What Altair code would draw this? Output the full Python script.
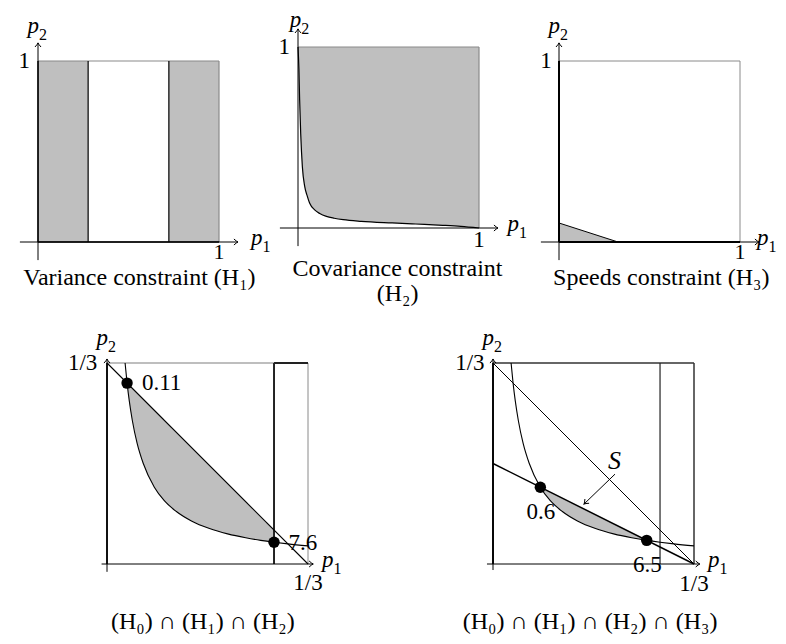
import math
import numpy as np
import pandas as pd
import altair as alt

FONT = "Liberation Serif"
FILL = "#bfbfbf"
BOX_GRAY = "#8a8a8a"
LIGHT_GRAY = "#a8a8a8"
CHEVRON = "M -1.5 -1.1 Q -0.5 -0.2 0 0 Q -0.5 0.2 -1.5 1.1"

# ---------------- values ----------------
# top row: unit square
var_lo = [0.0, 0.723]                      # H1 shaded bands (left edges)
var_hi = [0.277, 1.0]                      # H1 shaded bands (right edges)
cov_p1 = [0.0, 0.005, 0.009, 0.015, 0.024, 0.037, 0.05, 0.064, 0.092, 0.12,
          0.157, 0.2, 0.25, 0.35, 0.52, 0.65, 0.8, 0.9, 1.0]
cov_p2 = [1.0, 0.88, 0.71, 0.52, 0.34, 0.23, 0.18, 0.138, 0.10, 0.08,
          0.064, 0.054, 0.046, 0.037, 0.028, 0.022, 0.015, 0.009, 0.0]
spd_p1 = [0.0, 0.326]                      # H3 triangle hypotenuse
spd_p2 = [0.105, 0.0]
unit_tick = "1"

# bottom row: zoom on [0, 1/3]^2
THIRD = 1.0 / 3.0
zc_p1 = [0.030, 0.0333, 0.037, 0.042, 0.050, 0.060, 0.0785, 0.095, 0.115, 0.140,
         0.170, 0.200, 0.230, 0.2549, 0.277, 0.300, 0.3333]
zc_p2 = [0.3333, 0.300, 0.270, 0.238, 0.200, 0.167, 0.1274, 0.105, 0.087, 0.0714,
         0.0588, 0.050, 0.0435, 0.0392, 0.0361, 0.0333, 0.030]
h0_p1 = [0.0, THIRD]
h0_p2 = [THIRD, 0.0]
h3_p1 = [0.0, THIRD]
h3_p2 = [1.0 / 6.0, 0.0]
h1_cut = 0.277
dot4_p1 = [0.0333, 0.277]
dot4_p2 = [0.300, 0.0361]
dot4_lab = ["0.11", "7.6"]
dot5_p1 = [0.0785, 0.2549]
dot5_p2 = [0.1274, 0.0392]
dot5_lab = ["0.6", "6.5"]
third_tick = "1/3"
set_label = "S"

title1 = "Variance constraint (H\u2081)"
title2 = ["Covariance constraint", "(H\u2082)"]
title3 = "Speeds constraint (H\u2083)"
title4 = "(H\u2080) \u2229 (H\u2081) \u2229 (H\u2082)"
title5 = "(H\u2080) \u2229 (H\u2081) \u2229 (H\u2082) \u2229 (H\u2083)"


class Panel:
    def __init__(self, w, h, ox, oy, s):
        self.w, self.h = w, h
        self.xs = alt.Scale(domain=[-ox / s, (w - ox) / s], nice=False, zero=False)
        self.ys = alt.Scale(domain=[-(h - oy) / s, oy / s], nice=False, zero=False)
        self.layers = []

    def _enc(self, **kw):
        enc = dict(x=alt.X("x:Q", scale=self.xs, axis=None),
                   y=alt.Y("y:Q", scale=self.ys, axis=None))
        enc.update(kw)
        return enc

    def segs(self, rows, color="black", width=1.0):
        df = pd.DataFrame(rows, columns=["x", "y", "x2", "y2"])
        self.layers.append(alt.Chart(df).mark_rule(color=color, strokeWidth=width)
                           .encode(**self._enc(x2="x2:Q", y2="y2:Q")))

    def line(self, px, py, color="black", width=1.0, interp="linear"):
        df = pd.DataFrame({"x": px, "y": py, "o": list(range(len(px)))})
        self.layers.append(alt.Chart(df).mark_line(color=color, strokeWidth=width,
                                                   interpolate=interp)
                           .encode(**self._enc(order="o:Q")))

    def area(self, px, lo, hi, interp="linear"):
        df = pd.DataFrame({"x": px, "y": lo, "y2": hi})
        self.layers.append(alt.Chart(df).mark_area(color=FILL, opacity=1, interpolate=interp)
                           .encode(**self._enc(y2="y2:Q")))

    def rects(self, x1, x2, y1, y2):
        df = pd.DataFrame({"x": x1, "x2": x2, "y": y1, "y2": y2})
        self.layers.append(alt.Chart(df).mark_rect(color=FILL, opacity=1)
                           .encode(**self._enc(x2="x2:Q", y2="y2:Q")))

    def dots(self, px, py, size=130):
        df = pd.DataFrame({"x": px, "y": py})
        self.layers.append(alt.Chart(df).mark_circle(color="black", opacity=1, size=size)
                           .encode(**self._enc()))

    def heads(self, px, py, angle, size=30):
        df = pd.DataFrame({"x": px, "y": py})
        self.layers.append(alt.Chart(df).mark_point(shape=CHEVRON, filled=False, color="black",
                                                    strokeWidth=1, size=size, angle=angle,
                                                    opacity=1)
                           .encode(**self._enc()))

    def text(self, px, py, labels, size=23, align="center", italic=False, dx=0, dy=0,
             clip=False):
        df = pd.DataFrame({"x": px, "y": py, "t": labels})
        self.layers.append(alt.Chart(df).mark_text(font=FONT, fontSize=size, align=align,
                                                   baseline="middle",
                                                   fontStyle="italic" if italic else "normal",
                                                   dx=dx, dy=dy, color="black", clip=clip)
                           .encode(**self._enc(text="t:N")))

    def plabel(self, x, y, sub, clip=False):
        self.text([x], [y], ["p"], italic=True, align="right", dx=1, dy=-4, clip=clip)
        self.text([x], [y], [sub], size=16, align="left", dx=1, dy=5, clip=clip)

    def axes(self, xa, ya):
        # xa = (start, tip) on p1 axis, ya = (start, tip) on p2 axis
        self.segs([[xa[0], 0, xa[1], 0]], "black", 1.0)
        self.segs([[0, ya[0], 0, ya[1]]], "black", 1.0)
        self.heads([xa[1]], [0], 0)
        self.heads([0], [ya[1]], 270)

    def chart(self):
        return alt.layer(*self.layers).properties(width=self.w, height=self.h)


S_TOP = 181.0
S_BOT = 603.0
H_TOP = 300
H_BOT = 312
TICK_Y = -0.058
TITLE_Y = -0.2

# ---------------- panel 1: variance ----------------
p1 = Panel(258, H_TOP, 30, 234, S_TOP)
p1.rects(var_lo, var_hi, [0.0, 0.0], [1.0, 1.0])
p1.segs([[0, 1, 1, 1], [1, 0, 1, 1]], BOX_GRAY, 1.2)
p1.segs([[var_hi[0], 0, var_hi[0], 1], [var_lo[1], 0, var_lo[1], 1]], "black", 1.2)
p1.segs([[0, 0, 1, 0], [0, 0, 0, 1]], "black", 1.4)
p1.axes((-0.1, 1.105), (-0.1, 1.1))
p1.text([-0.044], [1.0], [unit_tick], align="right")
p1.text([1.0], [TICK_Y], [unit_tick], size=22)
p1.plabel(0.0, 1.172, "2")
p1.plabel(1.235, 0.0, "1")
p1.text([0.56], [TITLE_Y], [title1], size=24, clip=True)

# ---------------- panel 2: covariance ----------------
p2 = Panel(258, H_TOP, 32, 220, S_TOP)
p2.area(cov_p1, cov_p2, [1.0] * len(cov_p1), interp="monotone")
p2.segs([[0, 1, 1, 1], [1, 0, 1, 1]], BOX_GRAY, 1.2)
p2.line(cov_p1, cov_p2, "black", 1.2, interp="monotone")
p2.axes((-0.1, 1.105), (-0.1, 1.1))
p2.text([-0.044], [1.0], [unit_tick], align="right")
p2.text([1.0], [-0.064], [unit_tick])
p2.plabel(0.012, 1.125, "2")
p2.plabel(1.215, 0.0, "1")
p2.text([0.55], [-0.225], [title2[0]], size=24, clip=True)
p2.text([0.55], [-0.366], [title2[1]], size=24, clip=True)

# ---------------- panel 3: speeds ----------------
p3 = Panel(254, H_TOP, 35, 234, S_TOP)
p3.area(spd_p1, spd_p2, [0.0, 0.0])
p3.segs([[0, 1, 1, 1], [1, 0, 1, 1]], BOX_GRAY, 1.0)
p3.segs([[0, 0, 1, 0], [0, 0, 0, 1]], "black", 2.0)
p3.line(spd_p1, spd_p2, "black", 1.0)
p3.axes((-0.1, 1.105), (-0.1, 1.1))
p3.text([-0.04], [1.0], [unit_tick], align="right")
p3.text([1.0], [TICK_Y], [unit_tick], size=22)
p3.plabel(0.0, 1.172, "2")
p3.plabel(1.152, 0.0, "1", clip=True)
p3.text([0.565], [TITLE_Y], [title3], size=24, clip=True)

# ---------------- panel 4: H0 ∩ H1 ∩ H2 ----------------
zc = pd.DataFrame({"p1": zc_p1, "p2": zc_p2})
sel4 = zc[(zc.p1 >= dot4_p1[0] - 1e-9) & (zc.p1 <= dot4_p1[1] + 1e-9)]
sel5 = zc[(zc.p1 >= dot5_p1[0] - 1e-9) & (zc.p1 <= dot5_p1[1] + 1e-9)]

OY_BOT = 256
p4 = Panel(385, H_BOT, 99, OY_BOT, S_BOT)
p4.area(list(sel4.p1), list(sel4.p2), list(np.interp(sel4.p1, h0_p1, h0_p2)), interp="monotone")
p4.segs([[THIRD, 0, THIRD, THIRD]], BOX_GRAY, 1.0)
p4.segs([[0, THIRD, h1_cut, THIRD]], LIGHT_GRAY, 1.5)
p4.segs([[h1_cut, THIRD, THIRD, THIRD], [h1_cut, 0, h1_cut, THIRD], [0, 0, 0, THIRD]],
        "#222222", 2.0)
p4.line(h0_p1, h0_p2, "black", 1.1)
p4.line(zc_p1, zc_p2, "black", 1.1, interp="monotone")
p4.axes((-0.009, 0.342), (-0.013, 0.340))
p4.dots(dot4_p1, dot4_p2)
p4.text([0.058], [0.300], [dot4_lab[0]], align="left")
p4.text([0.301], [0.035], [dot4_lab[1]], align="left")
p4.text([-0.016], [THIRD], [third_tick], align="right")
p4.text([THIRD], [-0.032], [third_tick])
p4.plabel(0.0, 0.368, "2")
p4.plabel(0.374, 0.0, "1")
p4.text([0.159], [-0.0962], [title4], size=24)

# ---------------- panel 5: H0 ∩ H1 ∩ H2 ∩ H3 ----------------
arrow_from = (0.2023, 0.149)
arrow_to = (0.151, 0.0995)
ang = math.degrees(math.atan2(-(arrow_to[1] - arrow_from[1]), arrow_to[0] - arrow_from[0])) % 360

p5 = Panel(385, H_BOT, 100, OY_BOT, S_BOT)
p5.area(list(sel5.p1), list(sel5.p2), list(np.interp(sel5.p1, h3_p1, h3_p2)), interp="monotone")
p5.segs([[0, THIRD, THIRD, THIRD], [THIRD, 0, THIRD, THIRD]], "#333333", 1.5)
p5.segs([[h1_cut, 0, h1_cut, THIRD]], "#222222", 1.2)
p5.segs([[0, 0, 0, THIRD]], "#111111", 2.0)
p5.line(h0_p1, h0_p2, "black", 1.0)
p5.line(h3_p1, h3_p2, "black", 1.5)
p5.line(zc_p1, zc_p2, "black", 1.1, interp="monotone")
p5.axes((-0.01, 0.343), (-0.01, 0.340))
p5.segs([[arrow_from[0], arrow_from[1], arrow_to[0], arrow_to[1]]], "black", 1.0)
p5.heads([arrow_to[0]], [arrow_to[1]], ang)
p5.dots(dot5_p1, dot5_p2)
p5.text([0.0796], [0.0862], [dot5_lab[0]])
p5.text([0.2562], [-0.0017], [dot5_lab[1]])
p5.text([0.2015], [0.170], [set_label], size=26, italic=True)
p5.text([-0.014], [THIRD], [third_tick], align="right")
p5.text([THIRD], [-0.033], [third_tick])
p5.plabel(0.0, 0.368, "2")
p5.plabel(0.374, 0.0, "1")
p5.text([0.161], [-0.0962], [title5], size=24)

top = alt.hconcat(p1.chart(), p2.chart(), p3.chart(), spacing=0, bounds="flush")
bottom = alt.hconcat(p4.chart(), p5.chart(), spacing=0, bounds="flush")
chart = (alt.vconcat(top, bottom, spacing=0)
         .properties(padding=0, background="white")
         .configure_view(stroke=None))

chart.save("out.html", embed_options={"renderer": "svg", "actions": False})
